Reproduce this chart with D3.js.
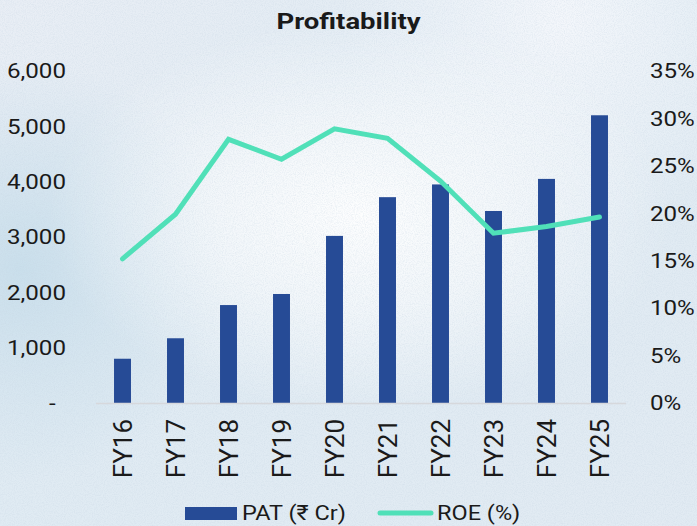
<!DOCTYPE html>
<html>
<head>
<meta charset="utf-8">
<script src="https://cdn.jsdelivr.net/npm/d3@7/dist/d3.min.js"></script>
<style>
  html, body { margin: 0; padding: 0; background: #e6eef4; }
  svg { display: block; font-family: Roboto, "Noto Sans", sans-serif; }
</style>
</head>
<body>
<svg id="chart" width="697" height="526"></svg>
<script>
// Financial years on the category axis
const categories = ["FY16", "FY17", "FY18", "FY19", "FY20", "FY21", "FY22", "FY23", "FY24", "FY25"];
// Profit after tax, ₹ crore
const patValues = [800, 1170, 1770, 1970, 3020, 3720, 3950, 3470, 4050, 5200];
// Return on equity, percent
const roeValues = [15.2, 19.9, 27.8, 25.7, 28.9, 27.9, 23.4, 17.9, 18.6, 19.6];
// Axis ticks
const leftTicks = [0, 1000, 2000, 3000, 4000, 5000, 6000];
const leftTickLabels = ["-", "1,000", "2,000", "3,000", "4,000", "5,000", "6,000"];
const rightTicks = [0, 5, 10, 15, 20, 25, 30, 35];
const rightTickLabels = ["0%", "5%", "10%", "15%", "20%", "25%", "30%", "35%"];

const W = 697, H = 526;
const plot = { left: 96, right: 626, top: 71, bottom: 403 };
const barColor = "#264b96";
const lineColor = "#50e0b8";
const textColor = "#1a1a1a";
const stretch = 1.15;

const svg = d3.select("#chart");
const defs = svg.append("defs");

// Soft backdrop: pale blue wash with a bright glow behind the plot
const bgLin = defs.append("linearGradient").attr("id", "bgLin")
  .attr("x1", 0).attr("y1", 0).attr("x2", 1).attr("y2", 1);
bgLin.append("stop").attr("offset", 0).attr("stop-color", "#e9eef5");
bgLin.append("stop").attr("offset", 0.45).attr("stop-color", "#e0ebf3");
bgLin.append("stop").attr("offset", 1).attr("stop-color", "#e2ebf3");

const glow = defs.append("radialGradient").attr("id", "glow")
  .attr("gradientUnits", "userSpaceOnUse")
  .attr("cx", 360).attr("cy", 215).attr("r", 260)
  .attr("gradientTransform", "translate(360,215) scale(1.2,0.75) translate(-360,-215)");
glow.append("stop").attr("offset", 0).attr("stop-color", "#ffffff").attr("stop-opacity", 0.95);
glow.append("stop").attr("offset", 0.5).attr("stop-color", "#ffffff").attr("stop-opacity", 0.55);
glow.append("stop").attr("offset", 1).attr("stop-color", "#ffffff").attr("stop-opacity", 0);

const blueSide = defs.append("radialGradient").attr("id", "blueSide")
  .attr("gradientUnits", "userSpaceOnUse")
  .attr("cx", 20).attr("cy", 270).attr("r", 210);
blueSide.append("stop").attr("offset", 0).attr("stop-color", "#c8deeb").attr("stop-opacity", 0.95);
blueSide.append("stop").attr("offset", 1).attr("stop-color", "#c8deeb").attr("stop-opacity", 0);

const topLight = defs.append("radialGradient").attr("id", "topLight")
  .attr("gradientUnits", "userSpaceOnUse")
  .attr("cx", 560).attr("cy", 20).attr("r", 220);
topLight.append("stop").attr("offset", 0).attr("stop-color", "#f6f8fc").attr("stop-opacity", 0.9);
topLight.append("stop").attr("offset", 1).attr("stop-color", "#f6f8fc").attr("stop-opacity", 0);

const grain = defs.append("filter").attr("id", "grain")
  .attr("x", 0).attr("y", 0).attr("width", "100%").attr("height", "100%");
grain.append("feTurbulence").attr("type", "fractalNoise")
  .attr("baseFrequency", 0.9).attr("numOctaves", 2).attr("seed", 4).attr("result", "n");
grain.append("feColorMatrix").attr("type", "matrix")
  .attr("values", "0 0 0 0 0.55  0 0 0 0 0.65  0 0 0 0 0.75  0 0 0 -1.6 1.0");

svg.append("rect").attr("width", W).attr("height", H).attr("fill", "url(#bgLin)");
svg.append("rect").attr("width", W).attr("height", H).attr("fill", "url(#blueSide)");
svg.append("rect").attr("width", W).attr("height", H).attr("fill", "url(#topLight)");
svg.append("rect").attr("width", W).attr("height", H).attr("fill", "url(#glow)");
svg.append("rect").attr("width", W).attr("height", H).attr("filter", "url(#grain)").attr("opacity", 0.4);

// Scales
const x = d3.scaleBand().domain(categories)
  .range([plot.left, plot.right]).paddingInner(0.68).paddingOuter(0.34);
const yLeft = d3.scaleLinear().domain([0, 6000]).range([plot.bottom, plot.top]);
const yRight = d3.scaleLinear().domain([0, 35]).range([plot.bottom, plot.top]);

// Title
svg.append("text")
  .attr("transform", `translate(${W / 2},29) scale(1.25,1)`)
  .attr("text-anchor", "middle")
  .attr("font-size", 22).attr("font-weight", 700).attr("fill", textColor)
  .text("Profitability");

// Left axis (PAT); the zero tick shows a dash set in from the column edge
const gLeft = svg.append("g").attr("transform", `translate(66,0)`)
  .call(d3.axisLeft(yLeft).tickValues(leftTicks)
    .tickFormat((d, i) => leftTickLabels[i]).tickSize(0).tickPadding(0));
gLeft.select(".domain").remove();
gLeft.selectAll("text").attr("x", d => d === 0 ? -9 : 0).attr("font-size", 21)
  .attr("font-family", "Roboto").attr("fill", textColor)
  .attr("transform", `scale(${stretch},1)`);

// Right axis (ROE)
const gRight = svg.append("g").attr("transform", `translate(650,0)`)
  .call(d3.axisRight(yRight).tickValues(rightTicks)
    .tickFormat((d, i) => rightTickLabels[i]).tickSize(0).tickPadding(0));
gRight.select(".domain").remove();
gRight.selectAll("text").attr("x", 0).attr("font-size", 21)
  .attr("font-family", "Roboto").attr("fill", textColor)
  .attr("transform", `scale(${stretch},1)`);

// Bars
svg.append("g").selectAll("rect").data(patValues).join("rect")
  .attr("x", (d, i) => x(categories[i]))
  .attr("width", x.bandwidth())
  .attr("y", d => yLeft(d))
  .attr("height", d => yLeft(0) - yLeft(d))
  .attr("fill", barColor);

// Baseline
svg.append("line")
  .attr("x1", plot.left).attr("x2", plot.right)
  .attr("y1", plot.bottom + 0.5).attr("y2", plot.bottom + 0.5)
  .attr("stroke", "#d6d8dc").attr("stroke-width", 1.5);

// Category labels, rotated
const gX = svg.append("g").attr("transform", `translate(0,${plot.bottom})`)
  .call(d3.axisBottom(x).tickSize(0).tickPadding(0));
gX.select(".domain").remove();
gX.selectAll("text")
  .attr("font-size", 26).attr("font-family", "Roboto").attr("fill", textColor)
  .attr("text-anchor", "end")
  .attr("transform", "rotate(-90)")
  .attr("x", -16).attr("y", 0).attr("dy", "0.35em");

// ROE line
const line = d3.line()
  .x((d, i) => x(categories[i]) + x.bandwidth() / 2)
  .y(d => yRight(d));
svg.append("path").datum(roeValues)
  .attr("d", line)
  .attr("fill", "none").attr("stroke", lineColor)
  .attr("stroke-width", 5).attr("stroke-linecap", "round").attr("stroke-linejoin", "miter");

// Legend
const legend = svg.append("g");
legend.append("rect").attr("x", 185).attr("y", 507).attr("width", 52).attr("height", 13).attr("fill", barColor);
legend.append("text").attr("transform", `translate(242,520) scale(1.12,1)`)
  .attr("font-size", 21).attr("fill", textColor).text("PAT (₹ Cr)");
legend.append("line").attr("x1", 380).attr("x2", 431).attr("y1", 513).attr("y2", 513)
  .attr("stroke", lineColor).attr("stroke-width", 5).attr("stroke-linecap", "round");
legend.append("text").attr("transform", `translate(437,520) scale(1.12,1)`)
  .attr("font-size", 21).attr("fill", textColor).text("ROE (%)");
</script>
</body>
</html>
